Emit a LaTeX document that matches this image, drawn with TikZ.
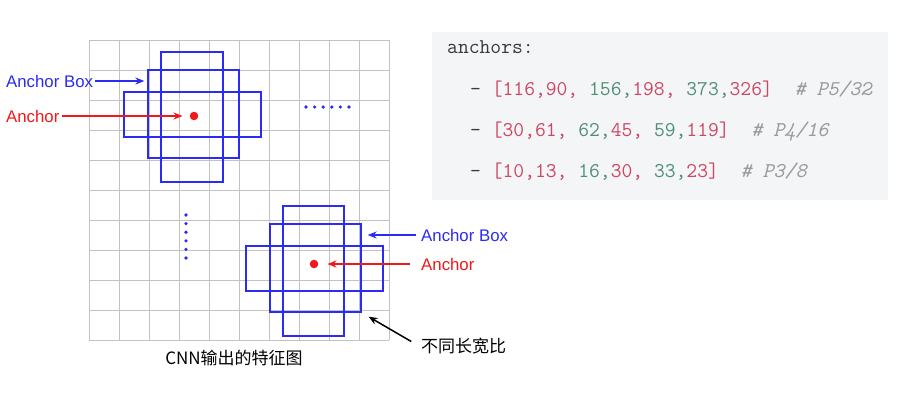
\documentclass[tikz,border=0pt]{standalone}
\usepackage{fontspec}
\setmainfont{Liberation Sans}
\setmonofont{Latin Modern Mono}
\newfontfamily\cjk{Noto Sans CJK SC}
\usepackage{xcolor}
\definecolor{gridgray}{HTML}{C2C2C2}
\definecolor{boxblue}{HTML}{2B2BF5}
\definecolor{dotred}{HTML}{F01818}
\definecolor{codeBg}{HTML}{F4F5F6}
\definecolor{codeInk}{HTML}{3A3A3A}
\definecolor{codeRed}{HTML}{CE4662}
\definecolor{codeGreen}{HTML}{4F8F78}
\definecolor{codeGray}{HTML}{9A9A9A}
\usetikzlibrary{arrows.meta,positioning}
\newcommand\numr[1]{\textcolor{codeRed}{#1}}
\newcommand\numg[1]{\textcolor{codeGreen}{#1}}
\newcommand\cmt[1]{\textcolor{codeGray}{\itshape #1}}
\tikzset{>={Stealth[length=9pt,width=7pt]},
  gridline/.style={draw=gridgray,line width=0.9pt},
  abox/.style={draw=boxblue,line width=1.3pt,inner sep=0pt},
  anc/.style={circle,fill=dotred,inner sep=0pt,minimum size=8.5pt},
  bdot/.style={circle,fill=boxblue,inner sep=0pt,minimum size=3.6pt},
  lbl/.style={font=\fontsize{16.8}{19}\selectfont,inner sep=2pt,anchor=west},
  bluelbl/.style={lbl,text=boxblue},
  redlbl/.style={lbl,text=dotred},
  bluearrow/.style={->,line width=1.5pt,boxblue},
  redarrow/.style={->,line width=1.5pt,dotred},
  blackarrow/.style={->,line width=1.5pt,black},
  codeline/.style={font=\fontsize{21}{24}\ttfamily,text=codeInk,inner sep=0pt,anchor=base west}}

\begin{document}
\begin{tikzpicture}[x=1pt,y=-1pt]
  \useasboundingbox[fill=white] (0,0) rectangle (900,400);
  % feature map grid
  \foreach \i in {0,...,10}{
    \draw[gridline] (89+30*\i,40) -- (89+30*\i,340);
    \draw[gridline] (89,40+30*\i) -- (389,40+30*\i);
  }
  \node[font=\cjk\fontsize{17}{20}\selectfont] (fmcap) at (234,358) {CNN输出的特征图};

  % upper-left anchor
  \node[abox,minimum width=62,minimum height=130] (tallA) at (192,117) {};
  \node[abox,minimum width=91,minimum height=88] (midA) at (193.5,114) {};
  \node[abox,minimum width=137,minimum height=45] (wideA) at (192.5,114.5) {};
  \node[anc] (dotA) at (194,116) {};

  % lower-right anchor
  \node[abox,minimum width=61,minimum height=130] (tallB) at (313.5,271) {};
  \node[abox,minimum width=91,minimum height=88] (midB) at (315.5,268) {};
  \node[abox,minimum width=137,minimum height=45] (wideB) at (314.5,268.5) {};
  \node[anc] (dotB) at (314,264) {};

  % ellipsis dots
  \foreach \k in {0,...,5}{
    \node[bdot] at (306+8.6*\k,107) {};
    \node[bdot] at (186,215+8.6*\k) {};
  }

  % labels
  \node[bluelbl] (boxlblA) at (4,81) {Anchor Box};
  \node[redlbl] (anclblA) at (4,116) {Anchor};
  \node[bluelbl] (boxlblB) at (419,235) {Anchor Box};
  \node[redlbl] (anclblB) at (419,264) {Anchor};
  \node[lbl,font=\cjk\fontsize{17}{20}\selectfont] (ratiolbl) at (419,346) {不同长宽比};

  \draw[bluearrow,shorten >=3pt] (boxlblA.east) -- (boxlblA.east -| midA.west);
  \draw[redarrow,shorten >=7pt] (anclblA.east) -- (dotA.west);
  \draw[bluearrow,shorten <=3pt,shorten >=6pt] (boxlblB.west) -- (boxlblB.west -| midB.east);
  \draw[redarrow,shorten <=9pt,shorten >=9pt] (anclblB.west) -- (dotB.east);
  \draw[blackarrow,shorten <=9pt,shorten >=8pt] (ratiolbl.west) -- (midB.south east);

  % yaml snippet
  \fill[codeBg] (432,32) rectangle (888,200);
  \node[codeline] (yamlkey) at (447,53) {anchors:};
  \node[codeline] (p5) at (470,95) {-~\numr{[116,90,}~\numg{156,}\numr{198,}~\numg{373,}\numr{326]}~~\cmt{\# P5/32}};
  \node[codeline] (p4) at (470,136.5) {-~\numr{[30,61,}~\numg{62,}\numr{45,}~\numg{59,}\numr{119]}~~\cmt{\# P4/16}};
  \node[codeline] (p3) at (470,177.5) {-~\numr{[10,13,}~\numg{16,}\numr{30,}~\numg{33,}\numr{23]}~~\cmt{\# P3/8}};
\end{tikzpicture}
\end{document}
